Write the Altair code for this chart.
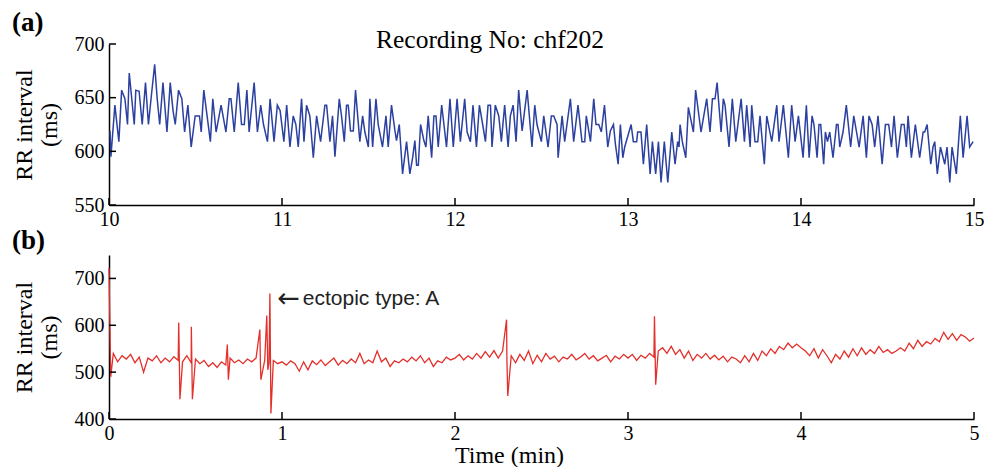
import altair as alt
import pandas as pd

# ---------------- Panel (a): RR intervals, minutes 10-15 ----------------
a_t_10 = [10.006, 10.011, 10.034, 10.057, 10.073, 10.092, 10.107, 10.117, 10.146, 10.155,
          10.174, 10.192, 10.211, 10.228, 10.245, 10.264, 10.278, 10.293, 10.312, 10.335,
          10.354, 10.370, 10.383, 10.402, 10.421, 10.437, 10.456, 10.475, 10.498, 10.523,
          10.533, 10.548, 10.586, 10.600, 10.619, 10.648, 10.676, 10.695, 10.705, 10.724,
          10.747, 10.766, 10.782, 10.797, 10.810, 10.839, 10.858, 10.877, 10.893, 10.916,
          10.931, 10.954, 10.973, 10.989]
a_v_10 = [619, 595, 643, 609, 657, 649, 625, 673, 625, 657,
          656, 625, 664, 625, 652, 681, 650, 625, 664, 618,
          664, 638, 625, 657, 649, 618, 643, 604, 633, 633,
          618, 657, 609, 649, 618, 643, 618, 649, 649, 618,
          664, 625, 625, 657, 618, 664, 618, 643, 625, 609,
          649, 609, 643, 638]

a_t_11 = [11.011, 11.027, 11.046, 11.065, 11.080, 11.094, 11.113, 11.127, 11.142, 11.161,
          11.181, 11.200, 11.223, 11.248, 11.258, 11.277, 11.292, 11.306, 11.331, 11.344,
          11.360, 11.373, 11.383, 11.396, 11.412, 11.425, 11.450, 11.466, 11.479, 11.499,
          11.508, 11.524, 11.543, 11.556, 11.581, 11.601, 11.614, 11.633, 11.653, 11.662,
          11.678, 11.697, 11.720, 11.739, 11.755, 11.768, 11.778, 11.788, 11.801, 11.820,
          11.832, 11.845, 11.865, 11.878, 11.890, 11.903, 11.923, 11.936, 11.951, 11.971,
          11.990]
a_v_11 = [609, 643, 604, 633, 625, 604, 649, 609, 643, 633,
          594, 633, 609, 643, 643, 609, 633, 595, 649, 633,
          609, 643, 643, 619, 619, 657, 609, 633, 618, 604,
          649, 604, 649, 625, 604, 633, 604, 643, 619, 610,
          625, 579, 609, 579, 594, 610, 587, 587, 625, 610,
          604, 633, 594, 633, 633, 604, 643, 625, 604, 649,
          604]

a_t_12 = [12.012, 12.031, 12.056, 12.070, 12.089, 12.104, 12.124, 12.141, 12.160, 12.176,
          12.191, 12.205, 12.214, 12.233, 12.253, 12.268, 12.287, 12.307, 12.320, 12.336,
          12.353, 12.368, 12.388, 12.417, 12.445, 12.461, 12.474, 12.499, 12.513, 12.538,
          12.557, 12.571, 12.590, 12.596, 12.619, 12.634, 12.667, 12.686, 12.711, 12.734,
          12.750, 12.759, 12.783, 12.802, 12.815, 12.831, 12.846, 12.864, 12.883, 12.898,
          12.916, 12.927, 12.943, 12.956, 12.970, 12.981]
a_v_12 = [649, 609, 649, 618, 609, 643, 604, 643, 625, 609,
          643, 643, 604, 643, 633, 609, 643, 604, 633, 643,
          609, 657, 619, 657, 604, 643, 625, 609, 633, 604,
          633, 633, 625, 594, 633, 609, 649, 609, 643, 609,
          609, 633, 609, 649, 625, 625, 618, 643, 604, 619,
          625, 607, 588, 625, 594, 604]

a_t_13 = [13.018, 13.031, 13.050, 13.056, 13.075, 13.089, 13.108, 13.128, 13.141, 13.160,
          13.176, 13.191, 13.210, 13.230, 13.253, 13.272, 13.287, 13.295, 13.301, 13.314,
          13.334, 13.349, 13.359, 13.378, 13.391, 13.422, 13.455, 13.474, 13.488, 13.503,
          13.515, 13.538, 13.551, 13.561, 13.584, 13.603, 13.623, 13.654, 13.673, 13.686,
          13.706, 13.715, 13.734, 13.750, 13.763, 13.788, 13.802, 13.831, 13.860, 13.873,
          13.898, 13.927, 13.946, 13.966, 13.985]
a_v_13 = [625, 609, 609, 618, 618, 588, 625, 579, 609, 579,
          609, 571, 609, 571, 618, 588, 609, 604, 625, 609,
          594, 641, 633, 618, 657, 618, 649, 618, 649, 649,
          664, 618, 649, 643, 604, 649, 609, 649, 609, 643,
          604, 643, 609, 609, 633, 588, 633, 609, 643, 609,
          643, 594, 643, 609, 633]

a_t_14 = [14.012, 14.031, 14.047, 14.064, 14.075, 14.093, 14.104, 14.114, 14.131, 14.141,
          14.153, 14.166, 14.185, 14.205, 14.214, 14.224, 14.243, 14.262, 14.287, 14.305,
          14.336, 14.359, 14.378, 14.393, 14.411, 14.426, 14.445, 14.469, 14.488, 14.507,
          14.523, 14.538, 14.557, 14.580, 14.596, 14.609, 14.619, 14.638, 14.661, 14.686,
          14.706, 14.715, 14.729, 14.750, 14.763, 14.773, 14.788, 14.806, 14.831, 14.844,
          14.860, 14.873, 14.898, 14.921, 14.937, 14.960, 14.975, 14.995]
a_v_14 = [594, 643, 594, 633, 625, 594, 625, 625, 588, 618,
          609, 618, 594, 625, 625, 604, 618, 643, 604, 633,
          604, 633, 594, 633, 625, 604, 633, 588, 625, 625,
          604, 633, 594, 625, 625, 604, 633, 594, 625, 594,
          618, 618, 625, 588, 604, 609, 579, 604, 588, 604,
          571, 604, 579, 633, 594, 633, 604, 609]

a_x_ticks = [10, 11, 12, 13, 14, 15]
a_y_ticks = [550, 600, 650, 700]

# ---------------- Panel (b): RR intervals, minutes 0-5 (40 samples per minute) ----------------
b_v_0 = [723, 540, 522, 535, 528, 538, 520, 532, 500, 530,
         524, 535, 520, 530, 522, 533, 525, 522, 535, 520,
         528, 518, 525, 512, 520, 510, 522, 515, 530, 520,
         526, 518, 528, 522, 530, 520, 525, 520, 525, 518]
b_v_1 = [522, 515, 524, 518, 502, 522, 505, 524, 516, 526,
         514, 522, 530, 515, 525, 518, 528, 520, 540, 518,
         526, 520, 545, 522, 530, 512, 524, 520, 528, 522,
         532, 524, 535, 520, 530, 512, 524, 520, 532, 526]
b_v_2 = [530, 538, 526, 535, 528, 540, 530, 544, 532, 546,
         530, 545, 528, 535, 520, 538, 525, 545, 518, 536,
         522, 540, 528, 534, 522, 532, 528, 538, 526, 532,
         540, 528, 535, 524, 530, 536, 522, 534, 528, 538]
b_v_3 = [530, 538, 525, 536, 530, 540, 532, 545, 552, 540,
         555, 538, 548, 530, 545, 525, 538, 530, 540, 528,
         536, 526, 534, 522, 532, 528, 520, 535, 522, 540,
         525, 545, 535, 550, 540, 555, 548, 562, 552, 560]
b_v_4 = [552, 545, 535, 550, 530, 548, 535, 520, 538, 528,
         545, 532, 550, 535, 552, 538, 548, 540, 555, 542,
         548, 540, 545, 552, 545, 562, 550, 568, 555, 565,
         560, 572, 565, 585, 570, 582, 568, 580, 575, 566,
         573]

# ectopic beats (time in min, RR in ms)
b_spike_t = [0.010, 0.403, 0.410, 0.476, 0.482, 0.684, 0.690, 0.872, 0.878,
             0.912, 0.918, 0.930, 0.936, 2.298, 2.305, 3.153, 3.160]
b_spike_v = [490, 606, 442, 597, 442, 559, 484, 591, 484,
             621, 505, 668, 412, 612, 449, 619, 473]

b_x_ticks = [0, 1, 2, 3, 4, 5]
b_y_ticks = [400, 500, 600, 700]

# ---------------- build tables ----------------
a_t = a_t_10 + a_t_11 + a_t_12 + a_t_13 + a_t_14
a_v = a_v_10 + a_v_11 + a_v_12 + a_v_13 + a_v_14
df_a = pd.DataFrame({"t": a_t, "v": a_v})

b_base_v = b_v_0 + b_v_1 + b_v_2 + b_v_3 + b_v_4
b_base_t = [k * 0.025 for k in range(len(b_base_v))]
df_b = pd.DataFrame({"t": b_base_t + b_spike_t, "v": b_base_v + b_spike_v})
df_b = df_b.sort_values("t").reset_index(drop=True)

BLUE = "#2c40a0"
RED = "#e3302b"
SERIF = "Liberation Serif"
W = 865
HA = 161
HB = 164
TICK = 7


def panel(df, color, sw, xdom, ydom, xticks, yticks, h, letter, letter_y, xtitle, extra_fn):
    xs = alt.Scale(domain=xdom, nice=False, zero=False)
    ys = alt.Scale(domain=ydom, nice=False, zero=False)
    x_axis = alt.Axis(values=xticks, format="d", labelFlush=False, labelPadding=4,
                      title=xtitle, titlePadding=0, titleX=400, titleFontSize=24)
    y_axis = alt.Axis(values=yticks, format="d", labelPadding=5,
                      title=["RR interval", "(ms)"], titleLineHeight=25, titlePadding=13,
                      titleFontSize=24)
    X = lambda: alt.X("t:Q", scale=xs, axis=x_axis)
    Y = lambda: alt.Y("v:Q", scale=ys, axis=y_axis)
    line = alt.Chart(df).mark_line(color=color, strokeWidth=sw).encode(
        x=X(), y=Y(), order=alt.Order("t:Q"),
    )
    xt = alt.Chart(pd.DataFrame({"t": xticks})).mark_rule(color="black", strokeWidth=1.5).encode(
        x=X(), y=alt.value(h), y2=alt.value(h - TICK),
    )
    yt = alt.Chart(pd.DataFrame({"v": yticks})).mark_rule(color="black", strokeWidth=1.5).encode(
        y=Y(), x=alt.value(0), x2=alt.value(TICK),
    )
    lab = alt.Chart(pd.DataFrame({"s": [letter]})).mark_text(
        font=SERIF, fontSize=27, fontWeight="bold", align="left", baseline="alphabetic", color="black"
    ).encode(x=alt.value(-97), y=alt.value(letter_y), text="s:N")
    layers = [line, xt, yt, lab] + extra_fn(X, Y)
    return alt.layer(*layers).properties(width=W, height=h)


def extra_a(X, Y):
    t = alt.Chart(pd.DataFrame({"s": ["Recording No: chf202"]})).mark_text(
        font=SERIF, fontSize=25.5, align="center", baseline="alphabetic", color="black"
    ).encode(x=alt.value(381), y=alt.value(4), text="s:N")
    return [t]


def extra_b(X, Y):
    arrow = alt.Chart(pd.DataFrame({"t": [0.972], "v": [656], "s": ["\u2190"]})).mark_text(
        font="DejaVu Sans", fontSize=27, align="left", baseline="middle", color="#222222"
    ).encode(x=X(), y=Y(), text="s:N")
    note = alt.Chart(pd.DataFrame({"t": [1.12], "v": [656], "s": ["ectopic type: A"]})).mark_text(
        font="Liberation Sans", fontSize=21, align="left", baseline="middle", color="#222222"
    ).encode(x=X(), y=Y(), text="s:N")
    return [arrow, note]


chart_a = panel(df_a, BLUE, 1.5, [10, 15], [550, 700], a_x_ticks, a_y_ticks, HA, "(a)", -13, "", extra_a)
chart_b = panel(df_b, RED, 1.3, [0, 5], [400, 750], b_x_ticks, b_y_ticks, HB, "(b)", -6, "Time (min)", extra_b)

chart = alt.vconcat(chart_a, chart_b, spacing=50, bounds="flush").configure_axis(
    labelFont=SERIF, labelFontSize=20, labelColor="black",
    titleFont=SERIF, titleColor="black", titleFontWeight="normal",
    domainColor="black", domainWidth=1.5, grid=False, ticks=False,
).configure_view(
    strokeWidth=0
).properties(
    background="white",
    padding={"top": 1, "bottom": 0, "left": 4, "right": 0},
)

chart.save("out.html", embed_options={"renderer": "svg", "actions": False})
